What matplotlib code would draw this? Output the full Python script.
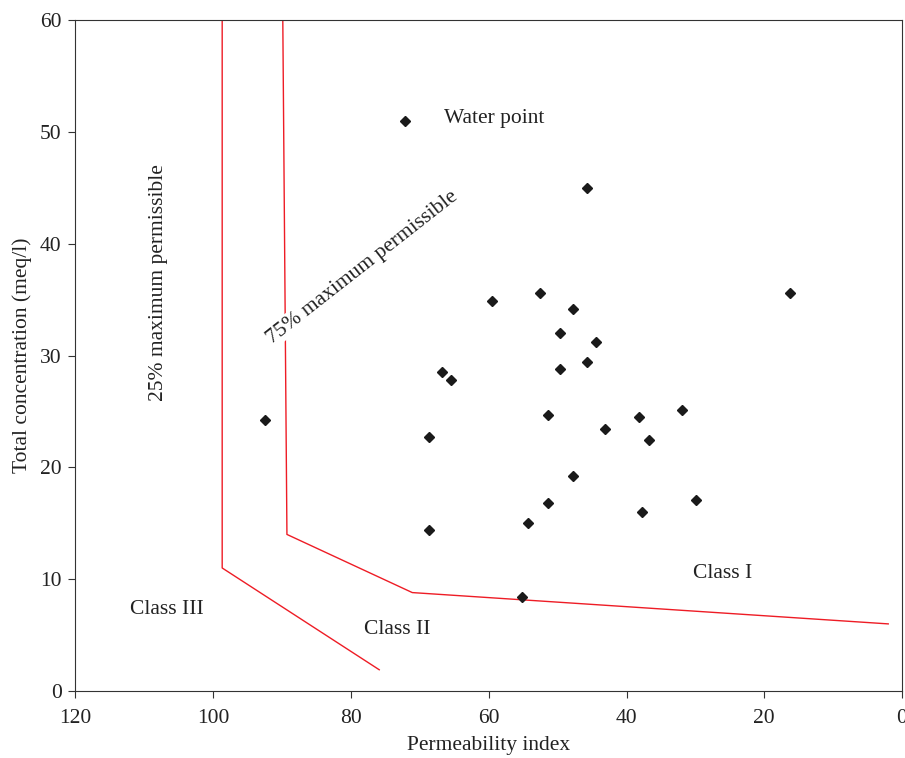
import matplotlib.pyplot as plt

plt.rcParams['font.family'] = ['Liberation Serif', 'DejaVu Serif']

# water points (permeability index, total concentration)
perm_index = [72.2, 45.7, 16.3, 52.6, 59.5, 47.8, 49.7, 44.4, 45.7, 49.7,
              66.8, 65.5, 92.5, 51.4, 38.2, 31.9, 43.1, 36.7, 68.7, 47.8,
              29.9, 51.4, 37.7, 54.3, 68.7, 55.2]
total_conc = [51.0, 45.0, 35.6, 35.6, 34.9, 34.2, 32.0, 31.2, 29.4, 28.8,
              28.5, 27.8, 24.2, 24.7, 24.5, 25.1, 23.4, 22.4, 22.7, 19.2,
              17.1, 16.8, 16.0, 15.0, 14.4, 8.4]

# class boundaries
line25_x = [98.7, 98.7, 75.9]
line25_y = [60, 11.0, 1.9]
line75_x = [89.9, 89.3, 71.1, 2.0]
line75_y = [60, 14.0, 8.8, 6.0]

fig = plt.figure(figsize=(9.05, 7.58), dpi=100)
ax = fig.add_axes([0.0834, 0.0884, 0.9133, 0.8852])

ax.plot(line25_x, line25_y, color='#ee1c25', lw=1)
ax.plot(line75_x, line75_y, color='#ee1c25', lw=1)
ax.plot(perm_index, total_conc, 'D', color='#1a1a1a', markersize=5.5, ls='none')

ax.set_xlim(120, 0)
ax.set_ylim(0, 60)
ax.set_xticks([120, 100, 80, 60, 40, 20, 0])
ax.set_yticks([0, 10, 20, 30, 40, 50, 60])
ax.tick_params(labelsize=15.5, direction='out', length=5, color='#333333',
               labelcolor='#222222')
ax.tick_params(axis='x', pad=8)
ax.tick_params(axis='y', pad=5)
for s in ax.spines.values():
    s.set_color('#333333')

ax.set_xlabel('Permeability index', fontsize=15.5, color='#222222', labelpad=6)
ax.set_ylabel('Total concentration (meq/l)', fontsize=15.5, color='#222222', labelpad=5.5)

ax.text(66.5, 51.2, 'Water point', fontsize=15.5, va='center', ha='left', color='#222222')
ax.text(108, 36.5, '25% maximum permissible', fontsize=15.5, rotation=90,
        ha='center', va='center', color='#222222')
ax.text(78.4, 37.9, '75% maximum permissible', fontsize=15.5, rotation=38,
        ha='center', va='center', color='#222222',
        bbox=dict(facecolor='white', edgecolor='none', pad=1))
ax.text(26.1, 10.5, 'Class I', fontsize=15.5, ha='center', va='center', color='#222222')
ax.text(73.3, 5.5, 'Class II', fontsize=15.5, ha='center', va='center', color='#222222')
ax.text(106.7, 7.3, 'Class III', fontsize=15.5, ha='center', va='center', color='#222222')

fig.savefig('out.png', dpi=100)
